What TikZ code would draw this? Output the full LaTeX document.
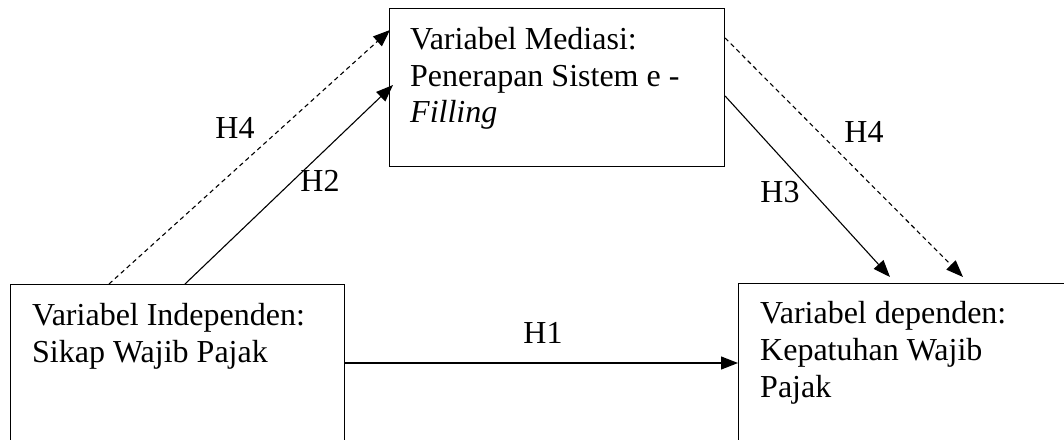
\documentclass[tikz,border=0pt]{standalone}
\usepackage{fontspec}
\setmainfont{Liberation Serif}
\usetikzlibrary{arrows.meta,calc}
\begin{document}
\begin{tikzpicture}[x=1pt,y=-1pt,
  box/.style={draw=black, line width=1.1pt, minimum width=#1, anchor=north west, inner sep=0pt},
  box/.default=335pt,
  txt/.style={anchor=base west, inner sep=0pt, font=\fontsize{32}{37}\selectfont},
  lbl/.style={anchor=base, inner sep=0pt, font=\fontsize{32}{37}\selectfont},
  link/.style={line width=1.1pt, -{Triangle[length=17pt,width=13pt]}},
  dashlink/.style={link, dash pattern=on 4.5pt off 3.5pt}]
\useasboundingbox (0,0) rectangle (1064,439);
\clip (0,0) rectangle (1064,439);

% boxes
\node[box=335pt, minimum height=158pt] (med) at (389,8) {};
\node[box=334pt, minimum height=190pt] (ind) at (10,284) {};
\node[box=345pt, minimum height=190pt] (dep) at (738,283) {};

% box texts
\node[txt] (med1) at (410,49) {Variabel Mediasi:};
\node[txt] (med2) at (410,86) {Penerapan Sistem e -};
\node[txt] (med3) at (410,122) {\itshape Filling};
\node[txt] (ind1) at (32,325) {Variabel Independen:};
\node[txt] (ind2) at (32,362) {Sikap Wajib Pajak};
\node[txt] (dep1) at (760,323) {Variabel dependen:};
\node[txt] (dep2) at (760,360) {Kepatuhan Wajib};
\node[txt] (dep3) at (760,397) {Pajak};

% connectors
\draw[dashlink] ($(ind.north west)+(99,0)$) -- ($(med.north west)+(1,22)$);
\draw[link] ($(ind.north west)+(175,0)$) -- ($(med.north west)+(4,77)$);
\draw[link] ($(med.north east)+(0,88)$) -- ($(dep.north west)+(152,-6)$);
\draw[dashlink] ($(med.north east)+(0,30)$) -- ($(dep.north west)+(225,-6)$);
\draw[link] (ind.east |- 0,363) -- (dep.west |- 0,363);

% path labels
\node[lbl] (h4a) at (235,138) {H4};
\node[lbl] (h2) at (320,191) {H2};
\node[lbl] (h4b) at (864,142) {H4};
\node[lbl] (h3) at (780,202) {H3};
\node[lbl] (h1) at (543,343) {H1};
\end{tikzpicture}
\end{document}
